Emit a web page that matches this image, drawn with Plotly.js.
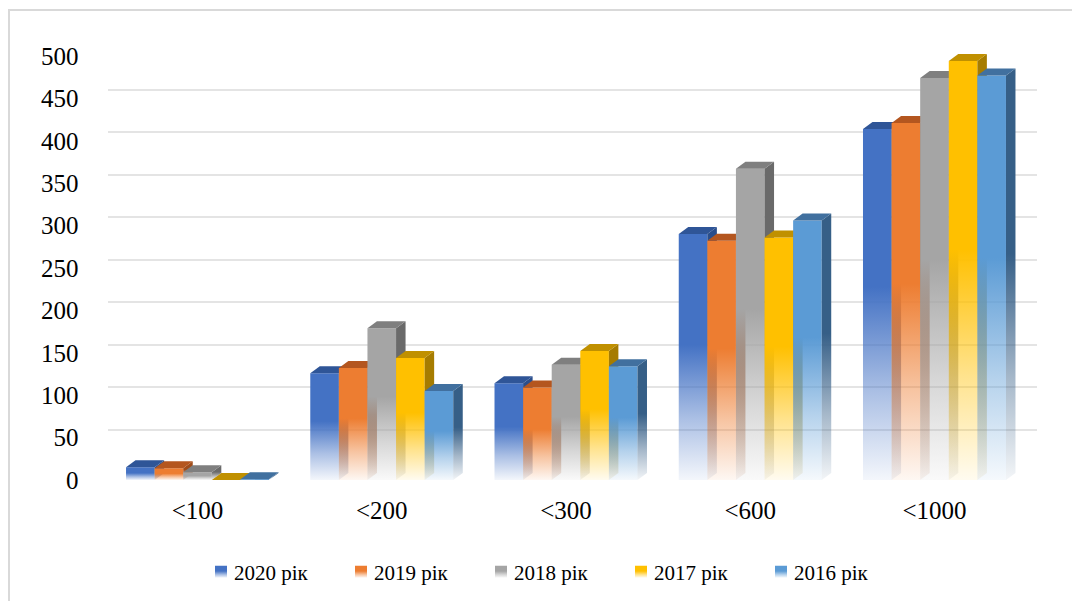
<!DOCTYPE html>
<html><head><meta charset="utf-8">
<script src="https://cdn.plot.ly/plotly-3.0.1.min.js"></script>
<style>
html,body{margin:0;padding:0;background:#fff;}
#wrap{position:relative;width:1072px;height:601px;overflow:hidden;}
#chart{width:1072px;height:601px;}
#frame{position:absolute;left:8px;top:9px;width:2000px;height:2000px;border-left:2px solid #d9d9d9;border-top:2px solid #d9d9d9;pointer-events:none;}
</style></head>
<body><div id="wrap"><div id="chart"></div><div id="frame"></div></div>
<script>
// ---- data ----
const categories = ['<100', '<200', '<300', '<600', '<1000'];
const seriesNames = ['2020 рік', '2019 рік', '2018 рік', '2017 рік', '2016 рік'];
const v2020 = [15, 126, 114, 290, 414];
const v2019 = [14, 132, 109, 282, 421];
const v2018 = [9, 179, 136, 367, 474];
const v2017 = [0, 144, 152, 286, 494];
const v2016 = [1, 105, 134, 306, 477];
const seriesValues = [v2020, v2019, v2018, v2017, v2016];

// ---- styles ----
const colors = ['#4472C4', '#ED7D31', '#A5A5A5', '#FFC000', '#5B9BD5'];
const topColors = ['#2F5597', '#B4561F', '#7F7F7F', '#C09000', '#41709F'];
const sideColors = ['#2A4E8C', '#A04C1A', '#6A6A6A', '#A67C00', '#365F87'];

const W = 1072, H = 601;
const px = a => a / W, py = b => (H - b) / H;

const traces = seriesValues.map((v, i) => ({
  type: 'bar', x: categories, y: v, name: seriesNames[i],
  xaxis: 'x2', yaxis: 'y2', cliponaxis: false,
  marker: {color: colors[i], line: {width: 0}}, hoverinfo: 'skip'
}));
traces.push({type: 'scatter', x: [], y: [], xaxis: 'x', yaxis: 'y', showlegend: false, hoverinfo: 'skip'});

const font = 'Liberation Serif, Times New Roman, DejaVu Serif, serif';
const layout = {
  width: W, height: H, autosize: false,
  margin: {l: 0, r: 0, t: 0, b: 0},
  paper_bgcolor: 'rgba(0,0,0,0)', plot_bgcolor: 'rgba(0,0,0,0)',
  font: {family: font, color: '#000'},
  barmode: 'group', bargap: 0.224, bargroupgap: 0,
  xaxis: {domain: [px(108), px(1037)], range: [0, 1], showgrid: false, showticklabels: false,
          zeroline: false, showline: false, ticks: '', anchor: 'y'},
  yaxis: {domain: [py(472), py(47)], range: [0, 500], dtick: 50, showgrid: true,
          gridcolor: '#e4e4e4', gridwidth: 2, showticklabels: false, zeroline: false,
          showline: false, ticks: '', anchor: 'x'},
  xaxis2: {domain: [px(105.4), px(1026.6)], anchor: 'y2', type: 'category',
           showgrid: false, showline: false, zeroline: false, ticks: '',
           tickfont: {size: 25, family: font, color: '#000'}, ticklabelstandoff: 13},
  yaxis2: {domain: [py(480), py(56)], anchor: 'x2', range: [0, 500], dtick: 50,
           showgrid: false, zeroline: false, showline: false, ticks: '',
           tickfont: {size: 25, family: font, color: '#000'}, ticklabelstandoff: 26},
  legend: {orientation: 'h', x: px(544), xanchor: 'center', y: py(572), yanchor: 'middle',
           font: {size: 21, family: font, color: '#000'}, entrywidth: 95, entrywidthmode: 'pixels',
           bgcolor: 'rgba(0,0,0,0)'}
};

Plotly.newPlot('chart', traces, layout, {staticPlot: true, displayModeBar: false}).then(gd => {
  const NS = 'http://www.w3.org/2000/svg';
  const svg = gd.querySelector('svg.main-svg');
  let defs = svg.querySelector('defs');
  if (!defs) { defs = document.createElementNS(NS, 'defs'); svg.insertBefore(defs, svg.firstChild); }
  function mkGrad(id, color) {
    const g = document.createElementNS(NS, 'linearGradient');
    g.setAttribute('id', id);
    g.setAttribute('x1', '0'); g.setAttribute('y1', '0');
    g.setAttribute('x2', '0'); g.setAttribute('y2', '1');
    [[0, 1], [0.45, 1], [0.75, 0.45], [1, 0.06]].forEach(([o, a]) => {
      const s = document.createElementNS(NS, 'stop');
      s.setAttribute('offset', o);
      s.setAttribute('stop-color', color);
      s.setAttribute('stop-opacity', a);
      g.appendChild(s);
    });
    defs.appendChild(g);
  }
  colors.forEach((c, i) => { mkGrad('gf' + i, c); mkGrad('gs' + i, sideColors[i]); });

  function poly(parent, pts, fill) {
    const p = document.createElementNS(NS, 'path');
    p.setAttribute('d', 'M' + pts.map(q => q[0].toFixed(2) + ',' + q[1].toFixed(2)).join('L') + 'Z');
    p.setAttribute('style', 'fill:' + fill + ';stroke:none');
    parent.appendChild(p);
  }

  const xa = gd._fullLayout.xaxis2, ya = gd._fullLayout.yaxis2;
  const DX = 9.5, DY = 7;
  gd.querySelectorAll('.barlayer .trace.bars').forEach(tg => {
    const cd = tg.__data__;
    const ti = cd[0].trace.index;
    tg.querySelectorAll('.point').forEach(pg => {
      const di = pg.__data__;
      const path = pg.querySelector('path');
      let x0 = xa.c2p(di.p0, true), x1 = xa.c2p(di.p1, true);
      let yb = ya.c2p(di.s0, true), yt = ya.c2p(di.s1, true);
      if (![x0, x1, yb, yt].every(isFinite)) {
        const bb = path.getBBox();
        x0 = bb.x; x1 = bb.x + bb.width; yt = bb.y; yb = bb.y + bb.height;
      }
      if (path) path.style.fill = 'url(#gf' + ti + ')';
      poly(pg, [[x1, yt], [x1 + DX, yt - DY], [x1 + DX, yb - DY], [x1, yb]], 'url(#gs' + ti + ')');
      poly(pg, [[x0, yt], [x0 + DX, yt - DY], [x1 + DX, yt - DY], [x1, yt]], topColors[ti]);
    });
  });
  gd.querySelectorAll('.legend .traces').forEach((lt, i) => {
    const lp = lt.querySelector('.legendpoints');
    if (lp) lp.setAttribute('transform', 'translate(7,0)');
    lt.querySelectorAll('.legendpoints path').forEach(p => { p.style.fill = 'url(#gf' + i + ')'; });
  });
});
</script>
</body></html>
